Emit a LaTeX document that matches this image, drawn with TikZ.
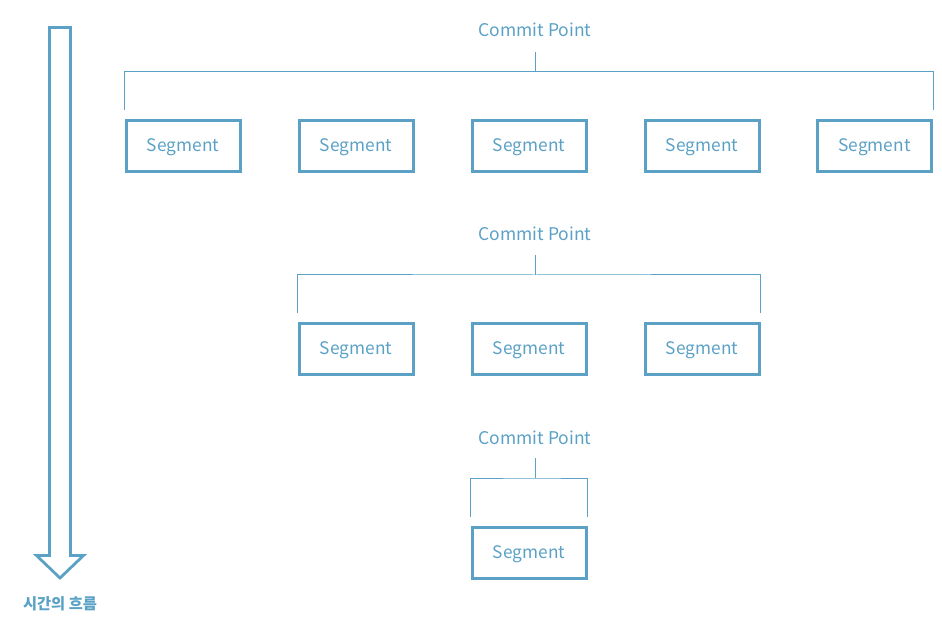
\documentclass[tikz,border=0pt]{standalone}
\usepackage{fontspec}
\setmainfont{Noto Sans CJK KR}
\definecolor{seg}{RGB}{91,161,198}
\begin{document}
\begin{tikzpicture}[x=1pt,y=-1pt,
  segbox/.style={draw=seg,line width=3pt,minimum width=114pt,minimum height=51pt,inner sep=0pt,text=seg,
    font=\fontsize{17.3}{19}\selectfont,text height=14pt,text depth=2.6pt},
  cplabel/.style={text=seg,inner sep=0pt,anchor=base,font=\fontsize{17.5}{19}\selectfont},
  bracket/.style={draw=seg,line width=1pt}]
\useasboundingbox (0,0) rectangle (942,617);
% time arrow
\draw[seg,line width=2.8pt,line join=miter] (49.5,27.5) -- (70.5,27.5) -- (70.5,555.5) -- (83.5,555.5) -- (60,578) -- (36.5,555.5) -- (49.5,555.5) -- cycle;
\node[text=seg,font=\bfseries\fontsize{15.3}{18}\selectfont,inner sep=0pt] (time) at (60,604) {시간의 흐름};
% row 1
\node[cplabel] (cp1) at (535,37) {Commit Point};
\coordinate (c1) at (535,52);
\coordinate (c1h) at (535,71.5);
\foreach \i/\x in {1/183,2/356,3/529,4/702,5/874.5}{
  \node[segbox] (s1\i) at (\x,146) {Segment};
}
\draw[bracket] (c1) -- (c1h);
\draw[bracket] ([yshift=9pt]s11.north west) |- (c1h) -| ([yshift=9pt]s15.north east);
% row 2
\node[cplabel] (cp2) at (535,241) {Commit Point};
\coordinate (c2) at (535,255);
\coordinate (c2h) at (535,275);
\foreach \i/\x in {1/356,2/529,3/702}{
  \node[segbox] (s2\i) at (\x,349) {Segment};
}
\draw[bracket] (c2) -- (c2h);
\draw[bracket] ([yshift=9pt]s21.north west) |- (c2h) -| ([yshift=9pt]s23.north east);
% row 3
\node[cplabel] (cp3) at (535,444) {Commit Point};
\coordinate (c3) at (535,458);
\coordinate (c3h) at (535,478);
\node[segbox] (s31) at (529,553) {Segment};
\draw[bracket] (c3) -- (c3h);
\draw[bracket] ([yshift=9pt]s31.north west) |- (c3h) -| ([yshift=9pt]s31.north east);
\end{tikzpicture}
\end{document}
